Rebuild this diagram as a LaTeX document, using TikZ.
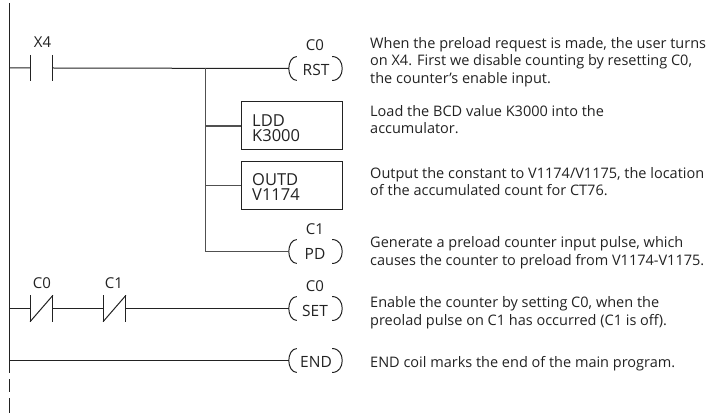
\documentclass[tikz,border=0pt]{standalone}
\usepackage{fontspec}
\setmainfont{Open Sans}
\usetikzlibrary{calc}
\definecolor{ink}{HTML}{222222}
\definecolor{branch}{HTML}{505050}
\tikzset{
  x=1pt,y=-1pt,
  wire/.style={draw=ink,line width=1pt},
  bwire/.style={draw=branch,line width=1.1pt},
  lbl/.style={font=\fontsize{15}{15}\selectfont,text=ink,inner sep=0pt,anchor=base},
  coilbox/.style={inner sep=0pt,minimum width=53pt,minimum height=23.5pt},
  coiltxt/.style={font=\fontsize{15.5}{15.5}\selectfont,text=ink,inner sep=0pt,anchor=base},
  instr/.style={draw=ink,line width=1pt,minimum width=101pt,minimum height=48pt,inner sep=0pt},
  instrtxt/.style={font=\fontsize{16.5}{15.5}\selectfont,text=ink,inner sep=0pt,anchor=base west,align=left},
  note/.style={font=\fontsize{14.5}{17.6}\selectfont,text=ink,inner sep=0pt,anchor=base west,align=left},
  cont/.style={inner sep=0pt,minimum width=22.5pt,minimum height=26pt},
}
\newcommand{\coilarcs}[1]{%
  \draw[wire] ($(#1.north west)+(8,0)$) .. controls ($(#1.north west)+(3,0)$) and ($(#1.west)+(0,-6)$) .. (#1.west)
     .. controls ($(#1.west)+(0,6)$) and ($(#1.south west)+(3,0)$) .. ($(#1.south west)+(8,0)$);
  \draw[wire] ($(#1.north east)+(-10,0)$) .. controls ($(#1.north east)+(-3,0)$) and ($(#1.east)+(0,-6)$) .. (#1.east)
     .. controls ($(#1.east)+(0,6)$) and ($(#1.south east)+(-3,0)$) .. ($(#1.south east)+(-10,0)$);
}
\newcommand{\nobars}[1]{\draw[wire] (#1.north west)--(#1.south west) (#1.north east)--(#1.south east);}
\newcommand{\ncbars}[1]{\nobars{#1}\draw[wire] (#1.south west)--(#1.north east);}
\begin{document}
\begin{tikzpicture}
\useasboundingbox (0,0) rectangle (720,414);
% power rail
\coordinate (railtop) at (9.5,3);
\coordinate (railend) at (9.5,373);
\coordinate (d1a) at (9.5,379); \coordinate (d1b) at (9.5,392);
\coordinate (d2a) at (9.5,398); \coordinate (d2b) at (9.5,413);
\draw[wire] (railtop)--(railend) (d1a)--(d1b) (d2a)--(d2b);
% contacts
\node[cont] (x4) at (41.5,68) {};
\node[cont] (c0n) at (41.5,308.5) {};
\node[cont] (c1n) at (114.5,308.5) {};
\nobars{x4} \ncbars{c0n} \ncbars{c1n}
\node[lbl] (x4l) at (42.5,47.7) {X4};
\node[lbl] (c0nl) at (42,288.3) {C0};
\node[lbl] (c1nl) at (114,288.3) {C1};
% coils
\node[coilbox] (rst) at (315.5,68.5) {};
\node[coilbox] (pd) at (315.5,251.5) {};
\node[coilbox] (set) at (315.5,308.5) {};
\node[coilbox] (end) at (315.5,360.5) {};
\coilarcs{rst}\coilarcs{pd}\coilarcs{set}\coilarcs{end}
\node[coiltxt] (rstt) at (316,75.5) {RST};
\node[coiltxt] (pdt) at (315,259) {PD};
\node[coiltxt] (sett) at (315,316) {SET};
\node[coiltxt] (endt) at (316,367.5) {END};
\node[lbl] (rstl) at (315,50.7) {C0};
\node[lbl] (pdl) at (315,234) {C1};
\node[lbl] (setl) at (315,291.7) {C0};
% instruction boxes
\node[instr] (ldd) at (291.5,126) {};
\node[instr] (outd) at (291.5,185.5) {};
\node[instrtxt] (lddt) at (252,141.7) {LDD\\K3000};
\node[instrtxt] (outdt) at (252,200.7) {OUTD\\V1174};
% rungs
\coordinate (r1) at (railtop|-x4.west);
\coordinate (r2) at (railtop|-c0n.west);
\coordinate (r3) at (railtop|-end.west);
\coordinate (bt) at (205.5,68);
\draw[wire] (r1)--(x4.west) (x4.east)--(rst.west);
\draw[wire] (r2)--(c0n.west) (c0n.east)--(c1n.west) (c1n.east)--(set.west);
\draw[wire] (r3)--(end.west);
% branch
\coordinate (b1) at (bt|-ldd.west);
\coordinate (b2) at (bt|-outd.west);
\coordinate (b3) at (bt|-pd.west);
\draw[bwire] (bt)--(b3)--(pd.west);
\draw[bwire] (b1)--(ldd.west) (b2)--(outd.west);
% notes
\node[note] (n1) at (370,83.5) {When the preload request is made, the user turns\\on X4. First we disable counting by resetting C0,\\the counter’s enable input.};
\node[note] (n2) at (370,134) {Load the BCD value K3000 into the\\accumulator.};
\node[note] (n3) at (370,196) {Output the constant to V1174/V1175, the location\\of the accumulated count for CT76.};
\node[note] (n4) at (370,265) {Generate a preload counter input pulse, which\\causes the counter to preload from V1174-V1175.};
\node[note] (n5) at (370,325) {Enable the counter by setting C0, when the\\preolad pulse on C1 has occurred (C1 is off).};
\node[note] (n6) at (370,367) {END coil marks the end of the main program.};
\end{tikzpicture}
\end{document}
